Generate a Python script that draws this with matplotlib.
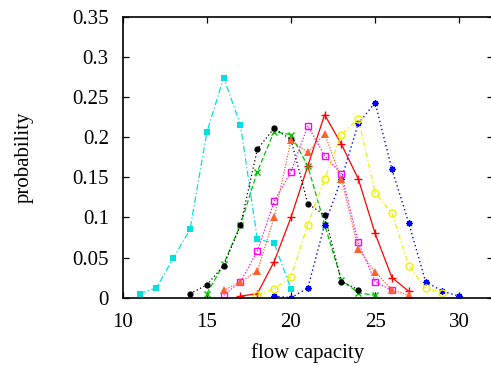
import matplotlib
matplotlib.use("Agg")
import matplotlib.pyplot as plt

plt.rcParams['font.family'] = ['Liberation Serif', 'DejaVu Serif']
plt.rcParams['font.size'] = 15

# data
red_x = list(range(17, 28))
red_y = [0.002, 0.005, 0.045, 0.100, 0.164, 0.228, 0.191, 0.148, 0.080, 0.025, 0.008]
green_x = list(range(15, 26))
green_y = [0.005, 0.042, 0.091, 0.157, 0.207, 0.203, 0.164, 0.091, 0.022, 0.006, 0.003]
blue_x = list(range(19, 31))
blue_y = [0.002, 0.0, 0.012, 0.091, 0.148, 0.217, 0.243, 0.160, 0.093, 0.020, 0.008, 0.002]
magenta_x = list(range(16, 27))
magenta_y = [0.003, 0.020, 0.058, 0.120, 0.157, 0.214, 0.177, 0.154, 0.069, 0.020, 0.009]
cyan_x = list(range(11, 21))
cyan_y = [0.005, 0.012, 0.049, 0.085, 0.206, 0.274, 0.215, 0.073, 0.068, 0.011]
yellow_x = list(range(18, 30))
yellow_y = [0.003, 0.011, 0.026, 0.091, 0.148, 0.203, 0.223, 0.131, 0.105, 0.040, 0.012, 0.006]
black_x = list(range(14, 25))
black_y = [0.005, 0.016, 0.040, 0.090, 0.185, 0.211, 0.197, 0.117, 0.103, 0.020, 0.010]
orange_x = list(range(16, 28))
orange_y = [0.009, 0.020, 0.033, 0.100, 0.196, 0.181, 0.204, 0.148, 0.061, 0.032, 0.010, 0.003]

x_ticks = [10, 15, 20, 25, 30]
y_ticks = [0, 0.05, 0.1, 0.15, 0.2, 0.25, 0.3, 0.35]
y_tick_labels = ['0', '0.05', '0.1', '0.15', '0.2', '0.25', '0.3', '0.35']

fig = plt.figure(figsize=(4.91, 3.66), dpi=100)
ax = fig.add_axes([0.2499, 0.1866, 0.754, 0.7678])

lw = 0.9
ax.plot(red_x, red_y, color='#ff0000', ls='-', lw=lw, marker='+', ms=6, mew=1.0)
ax.plot(green_x, green_y, color='#00c000', ls=(0, (4, 2)), lw=lw, marker='x', ms=5, mew=1.0)
ax.plot(blue_x, blue_y, color='#0000ff', ls=(0, (1, 2)), lw=1.0, marker=(8, 2, 0), ms=4.5, mew=1.0)
ax.plot(magenta_x, magenta_y, color='#ff00ff', ls=(0, (1, 1.5)), lw=lw, marker='s', ms=5,
        mfc='none', mew=1.0)
ax.plot(cyan_x, cyan_y, color='#00e0e0', ls=(0, (5, 2, 1, 2)), lw=lw, marker='s', ms=4.5, mew=0)
ax.plot(yellow_x, yellow_y, color='#f0f000', ls=(0, (4, 2, 1, 2)), lw=lw, marker='o', ms=5,
        mfc='none', mew=1.0)
ax.plot(black_x, black_y, color='#000000', ls=(0, (1, 2)), lw=lw, marker='o', ms=4.5, mew=0)
ax.plot(orange_x, orange_y, color='#ff6030', ls=(0, (1, 1.2)), lw=lw, marker='^', ms=5.5, mew=0)

ax.set_xlim(10, 32)
ax.set_ylim(0, 0.35)
ax.set_xticks(x_ticks)
ax.set_yticks(y_ticks)
ax.set_yticklabels(y_tick_labels)
ax.tick_params(direction='in', length=4.5, width=0.9, top=True, right=True, labelsize=15)
ax.tick_params(axis='y', pad=10)
ax.tick_params(axis='x', pad=11)
for s in ax.spines.values():
    s.set_linewidth(1.2)

ax.set_xlabel('flow capacity', fontsize=15, labelpad=8)
ax.set_ylabel('probability', fontsize=15, labelpad=28)

fig.savefig('out.png', dpi=100)
